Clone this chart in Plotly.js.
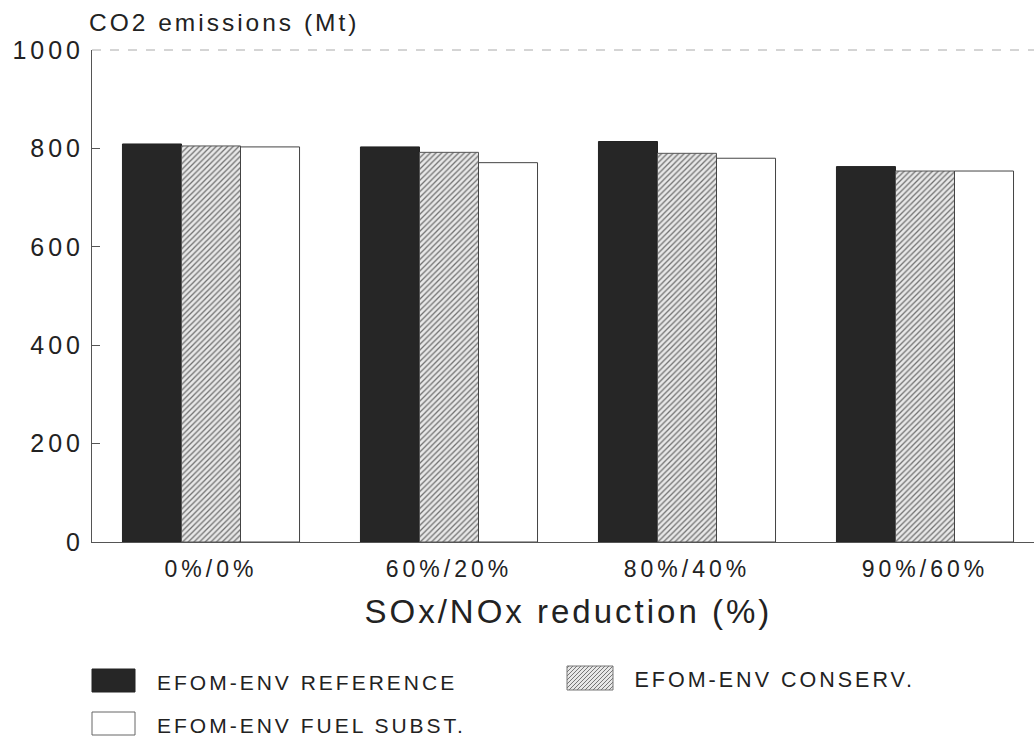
<!DOCTYPE html>
<html><head><meta charset="utf-8">
<script src="https://cdn.plot.ly/plotly-3.0.1.min.js"></script>
<style>
html,body{margin:0;padding:0;background:#fff;}
#chart{width:1034px;height:740px;}
#chart .xtick text{letter-spacing:4px;}
#chart .ytick text{letter-spacing:4px;}
#chart .annotation-text{letter-spacing:3px;}
</style></head><body><div id="chart"></div>
<script>
const categories = ['0%/0%', '60%/20%', '80%/40%', '90%/60%'];
const seriesNames = ['EFOM-ENV REFERENCE', 'EFOM-ENV CONSERV.', 'EFOM-ENV FUEL SUBST.'];
const reference = [809, 803, 814, 763];
const conserv = [805, 792, 790, 754];
const fuelSubst = [803, 771, 780, 754];
const yTicks = [0, 200, 400, 600, 800, 1000];

const W = 1034, H = 740, L = 92, T = 50, B = 198, R = 0;
const pw = W - L - R, ph = H - T - B;
const px = x => (x - L) / pw;
const py = y => (H - B - y) / ph;

const FONT = '"Liberation Sans", Arial, Helvetica, sans-serif';
const TXT = '#222';

const hatch = {shape: '/', size: 4, solidity: 0.32, fgcolor: '#707070', bgcolor: '#e8e8e8'};

const traces = [
  {type: 'bar', name: seriesNames[0], x: categories, y: reference, showlegend: false,
   marker: {color: '#262626', line: {color: '#222', width: 1}}},
  {type: 'bar', name: seriesNames[1], x: categories, y: conserv, showlegend: false,
   marker: {color: '#e8e8e8', pattern: hatch, line: {color: '#555', width: 1}}},
  {type: 'bar', name: seriesNames[2], x: categories, y: fuelSubst, showlegend: false,
   marker: {color: '#ffffff', line: {color: '#444', width: 1}}}
];

function rectShape(x0, y0, x1, y1, fill, line) {
  return {type: 'rect', xref: 'paper', yref: 'paper', x0: px(x0), x1: px(x1), y0: py(y1), y1: py(y0),
          fillcolor: fill, line: {color: line, width: 1}};
}
function hatchPath(x0, y0, x1, y1, step) {
  let d = '';
  for (let s = x0 + y0 + step / 2; s < x1 + y1; s += step) {
    const xa = Math.max(x0, s - y1), xb = Math.min(x1, s - y0);
    if (xa < xb) d += `M${px(xa)},${py(s - xa)}L${px(xb)},${py(s - xb)}`;
  }
  return {type: 'path', xref: 'paper', yref: 'paper', path: d, line: {color: '#777', width: 1}};
}
const shapes = [
  {type: 'line', xref: 'paper', yref: 'paper', x0: 0, x1: 1, y0: 1, y1: 1, line: {color: '#aaa', width: 1, dash: 'dash'}},
  rectShape(92, 669, 135, 692, '#262626', '#222'),
  rectShape(567, 666, 613, 690, '#e8e8e8', '#777'),
  hatchPath(567, 666, 613, 690, 4),
  rectShape(92, 712, 135, 735, '#ffffff', '#666')
];

function label(text, cx, cy, size) {
  return {text: text, xref: 'paper', yref: 'paper', x: px(cx), y: py(cy), xanchor: 'center', yanchor: 'middle',
          showarrow: false, font: {family: FONT, size: size, color: TXT}};
}
const annotations = [
  label('CO2 emissions (Mt)', 224, 23, 24.5),
  label('SOx/NOx reduction (%)', 568, 611, 33),
  label(seriesNames[0], 307, 682, 21),
  label(seriesNames[1], 774, 680, 21.5),
  label(seriesNames[2], 311, 725, 21)
];

const layout = {
  width: W, height: H,
  margin: {l: L, r: R, t: T, b: B, pad: 0},
  paper_bgcolor: '#ffffff', plot_bgcolor: '#ffffff',
  barmode: 'group', bargap: 0.256, bargroupgap: 0,
  showlegend: false,
  xaxis: {type: 'category', range: [-0.5, 3.458], showgrid: false, zeroline: false,
          showline: true, linecolor: '#555', linewidth: 1, ticks: '', automargin: false,
          tickfont: {family: FONT, size: 23, color: TXT}, ticklabelstandoff: 6},
  yaxis: {range: [0, 1000], tickvals: yTicks, ticktext: yTicks.map(String), showgrid: false, zeroline: false,
          showline: true, linecolor: '#555', linewidth: 1, ticks: 'inside', ticklen: 8, tickcolor: '#555',
          automargin: false, tickfont: {family: FONT, size: 25, color: TXT}, ticklabelstandoff: 2},
  shapes: shapes,
  annotations: annotations
};

Plotly.newPlot('chart', traces, layout, {staticPlot: true, displayModeBar: false});
</script></body></html>
